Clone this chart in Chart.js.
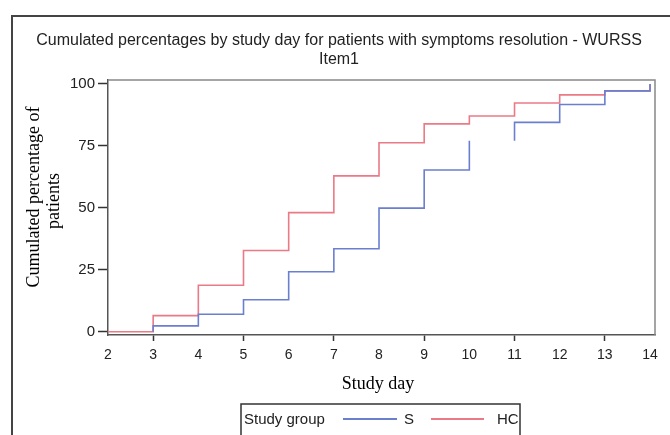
<!DOCTYPE html>
<html>
<head>
<meta charset="utf-8">
<script src="https://cdn.jsdelivr.net/npm/chart.js@4/dist/chart.umd.min.js"></script>
<style>
  html, body { margin: 0; padding: 0; background: #fff; }
  #wrap { width: 670px; height: 435px; position: relative; }
</style>
</head>
<body>
<div id="wrap"><canvas id="c" width="670" height="435"></canvas></div>
<script>
// ---- data ----
const days = [2, 3, 4, 5, 6, 7, 8, 9, 10, 11, 12, 13, 14];
const xTickLabels = ['2', '3', '4', '5', '6', '7', '8', '9', '10', '11', '12', '13', '14'];
const yTickValues = [0, 25, 50, 75, 100];
const seriesNames = ['S', 'HC'];
const sValues  = [null, 2.4, 7.1, 12.9, 24.2, 33.5, 49.9, 65.3, 77.1, 84.5, 91.7, 97.2, 100];
const hcValues = [0, 6.5, 18.8, 32.8, 48.1, 62.9, 76.3, 83.9, 87.1, 92.3, 95.6, 97.2, 100];
const sMissingAfter = [10];   // no horizontal step after this day for S
const hcMissingAfter = [];
const titleLines = ['Cumulated percentages by study day for patients with symptoms resolution - WURSS', 'Item1'];
const xTitle = 'Study day';
const yTitleLines = ['Cumulated percentage of', 'patients'];
const legendTitle = 'Study group';

// value v holds from day[i] until the next day; vertical jump at day[i]
function buildSteps(values, missingAfter) {
  const pts = [];
  let restart = true;
  for (let i = 0; i < values.length; i++) {
    const v = values[i];
    if (v === null) { restart = true; continue; }
    if (restart) {
      const base = (i > 0 && values[i - 1] !== null) ? values[i - 1] : 0;
      pts.push({ x: days[i], y: base });
      restart = false;
    }
    pts.push({ x: days[i], y: v });
    if (missingAfter.includes(days[i])) {
      pts.push({ x: days[i] + 0.5, y: null });
      restart = true;
    }
  }
  return pts;
}

const BLUE = '#6b7fcf';
const RED = '#ea7a86';

const decor = {
  id: 'decor',
  afterDraw(chart) {
    const ctx = chart.ctx;
    const a = chart.chartArea;
    ctx.save();
    // outer frame
    ctx.strokeStyle = '#444';
    ctx.lineWidth = 2;
    ctx.strokeRect(12, 16, 720, 520);
    // plot top/right border
    ctx.strokeStyle = '#888';
    ctx.lineWidth = 1.5;
    ctx.beginPath();
    ctx.moveTo(a.left, a.top); ctx.lineTo(a.right, a.top); ctx.lineTo(a.right, a.bottom);
    ctx.stroke();
    // title
    ctx.fillStyle = '#222';
    ctx.font = '16px "Liberation Sans", Arial, sans-serif';
    ctx.textAlign = 'center';
    ctx.textBaseline = 'middle';
    ctx.fillText(titleLines[0], 339, 41);
    ctx.fillText(titleLines[1], 339, 60);
    // x title
    ctx.fillStyle = '#000';
    ctx.font = '18px "Liberation Serif", "Times New Roman", serif';
    ctx.fillText(xTitle, 378, 384);
    // y title
    ctx.textBaseline = 'alphabetic';
    ctx.save();
    ctx.translate(39, 197);
    ctx.rotate(-Math.PI / 2);
    ctx.fillText(yTitleLines[0], 0, 0);
    ctx.restore();
    ctx.save();
    ctx.translate(59, 201);
    ctx.rotate(-Math.PI / 2);
    ctx.fillText(yTitleLines[1], 0, 0);
    ctx.restore();
    // legend
    ctx.textBaseline = 'middle';
    ctx.strokeStyle = '#333';
    ctx.lineWidth = 1.5;
    ctx.strokeRect(241, 404, 279, 60);
    ctx.fillStyle = '#222';
    ctx.font = '15px "Liberation Sans", Arial, sans-serif';
    ctx.textAlign = 'left';
    ctx.fillText(legendTitle, 244, 420);
    ctx.lineWidth = 2;
    ctx.strokeStyle = BLUE;
    ctx.beginPath(); ctx.moveTo(343, 419); ctx.lineTo(397, 419); ctx.stroke();
    ctx.fillText(seriesNames[0], 404, 420);
    ctx.strokeStyle = RED;
    ctx.beginPath(); ctx.moveTo(431, 419); ctx.lineTo(484, 419); ctx.stroke();
    ctx.fillText(seriesNames[1], 497, 420);
    ctx.restore();
  }
};

new Chart(document.getElementById('c'), {
  type: 'line',
  data: {
    datasets: [
      { label: seriesNames[0], data: buildSteps(sValues, sMissingAfter), borderColor: BLUE,
        borderWidth: 1.6, stepped: 'before', pointRadius: 0, spanGaps: false, fill: false },
      { label: seriesNames[1], data: buildSteps(hcValues, hcMissingAfter), borderColor: RED,
        borderWidth: 1.6, stepped: 'before', pointRadius: 0, spanGaps: false, fill: false }
    ]
  },
  options: {
    responsive: false,
    devicePixelRatio: 1,
    animation: false,
    layout: { padding: { top: 80, right: 15, left: 0, bottom: 0 } },
    plugins: { legend: { display: false }, title: { display: false }, tooltip: { enabled: false } },
    scales: {
      x: {
        type: 'linear', min: 2, max: 14.11,
        afterBuildTicks: s => { s.ticks = days.map(v => ({ value: v })); },
        afterFit: s => { s.height = 100; },
        ticks: {
          autoSkip: false, maxRotation: 0, padding: 6,
          color: '#222', font: { family: '"Liberation Sans", Arial, sans-serif', size: 14 },
          callback: (v) => xTickLabels[days.indexOf(v)]
        },
        grid: { drawOnChartArea: false, drawTicks: true, tickLength: 6,
          tickColor: c => (c.tick && c.tick.value % 2 === 1) ? '#333' : 'rgba(0,0,0,0)', tickWidth: 1.5 },
        border: { color: '#555', width: 1.5 }
      },
      y: {
        min: -1.3, max: 101.6,
        afterBuildTicks: s => { s.ticks = yTickValues.map(v => ({ value: v })); },
        afterFit: s => { s.width = 108; },
        ticks: { padding: 3, color: '#222', font: { family: '"Liberation Sans", Arial, sans-serif', size: 15 } },
        grid: { drawOnChartArea: false, drawTicks: true, tickLength: 10, tickColor: '#333', tickWidth: 1.5 },
        border: { color: '#555', width: 1.5 }
      }
    }
  },
  plugins: [decor]
});
</script>
</body>
</html>
